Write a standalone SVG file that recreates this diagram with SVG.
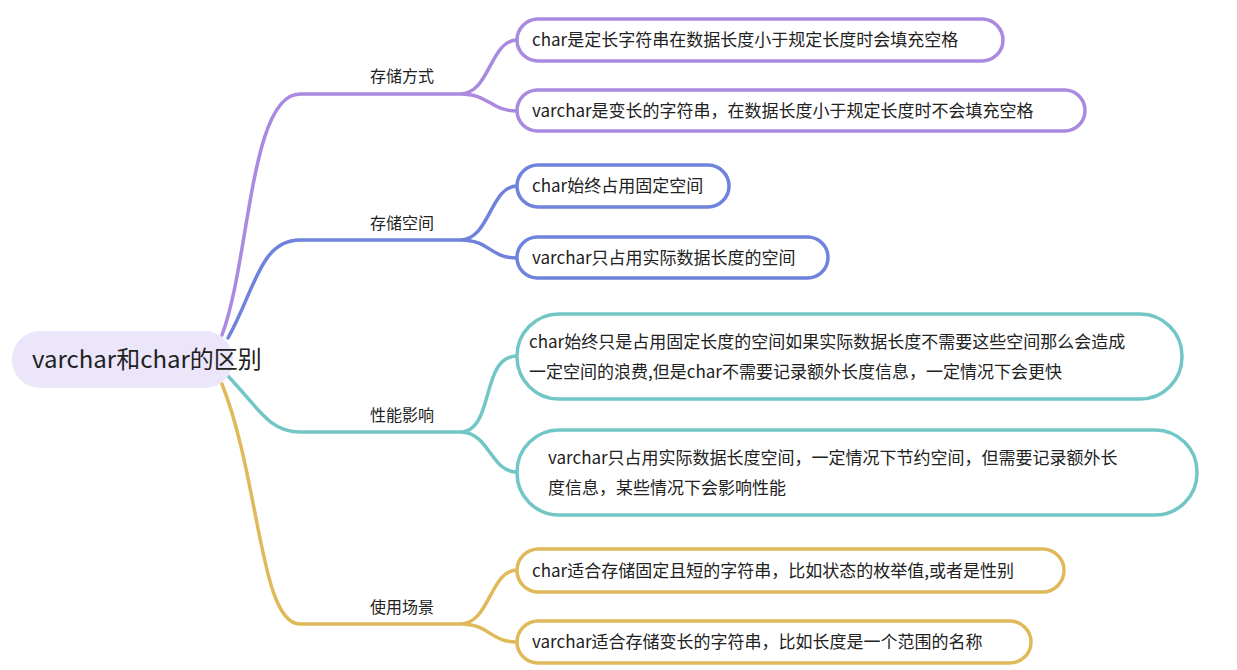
<svg xmlns="http://www.w3.org/2000/svg" width="1237" height="670" viewBox="0 0 1237 670">
<style>
text{font-family:"Noto Sans CJK SC","Noto Sans",sans-serif;fill:#222}
.leaf{fill:#fff;stroke-width:3.5}
.l{font-size:17px}
.b{font-size:16px}
.c{fill:none;stroke-width:3.5;stroke-linecap:round}
.p{stroke:#a98ae0}.u{stroke:#6f82dc}.t{stroke:#72c6c6}.g{stroke:#e0b95a}
</style>
<rect width="1237" height="670" fill="#fff"/>
<g id="connectors">
<path class="c p" d="M222 335 C250 260 250 94 300 94 L460 94 C490 94 490 40 517 40 M460 94 C490 94 490 111 517 111"/>
<path class="c u" d="M228 338 C255 290 260 240 300 240 L460 240 C490 240 490 186 517 186 M460 240 C490 240 490 258 517 258"/>
<path class="c t" d="M228 376 C260 410 270 432 300 432 L460 432 C495 432 480 356 517 356 M460 432 C490 432 490 472 517 472"/>
<path class="c g" d="M222 384 C260 480 260 624 300 624 L460 624 C490 624 490 570 517 570 M460 624 C490 624 490 642 517 642"/>
</g>
<g id="root"><rect x="12" y="331" width="221" height="57" rx="28" fill="#ebe6fa"/><text x="32" y="368" font-size="24">varchar和char的区别</text></g>
<g id="b1"><text class="b" x="370" y="82">存储方式</text></g>
<g id="b2"><text class="b" x="370" y="229">存储空间</text></g>
<g id="b3"><text class="b" x="370" y="421">性能影响</text></g>
<g id="b4"><text class="b" x="370" y="613">使用场景</text></g>
<g id="n1"><rect class="leaf p" x="517" y="19" width="486" height="42" rx="21"/><text class="l" x="532" y="46">char是定长字符串在数据长度小于规定长度时会填充空格</text></g>
<g id="n2"><rect class="leaf p" x="517" y="90" width="568" height="41" rx="20.5"/><text class="l" x="532" y="117">varchar是变长的字符串，在数据长度小于规定长度时不会填充空格</text></g>
<g id="n3"><rect class="leaf u" x="517" y="165" width="212" height="42" rx="21"/><text class="l" x="532" y="192">char始终占用固定空间</text></g>
<g id="n4"><rect class="leaf u" x="517" y="237" width="311" height="41" rx="20.5"/><text class="l" x="532" y="264">varchar只占用实际数据长度的空间</text></g>
<g id="n5"><rect class="leaf t" x="517" y="314" width="665" height="85" rx="42"/><text class="l" x="529" y="348">char始终只是占用固定长度的空间如果实际数据长度不需要这些空间那么会造成</text><text class="l" x="529" y="378">一定空间的浪费,但是char不需要记录额外长度信息，一定情况下会更快</text></g>
<g id="n6"><rect class="leaf t" x="517" y="430" width="680" height="85" rx="42"/><text class="l" x="548" y="464">varchar只占用实际数据长度空间，一定情况下节约空间，但需要记录额外长</text><text class="l" x="548" y="494">度信息，某些情况下会影响性能</text></g>
<g id="n7"><rect class="leaf g" x="517" y="549" width="547" height="43" rx="21.5"/><text class="l" x="532" y="577">char适合存储固定且短的字符串，比如状态的枚举值,或者是性别</text></g>
<g id="n8"><rect class="leaf g" x="517" y="621" width="514" height="42" rx="21"/><text class="l" x="532" y="648">varchar适合存储变长的字符串，比如长度是一个范围的名称</text></g>
</svg>
